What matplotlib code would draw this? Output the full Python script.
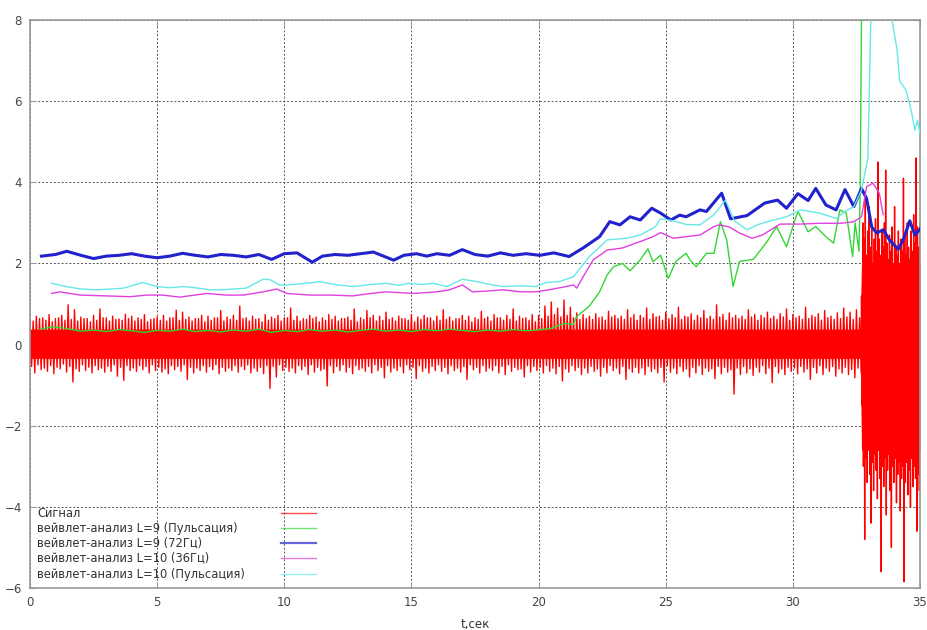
import numpy as np
import matplotlib
matplotlib.use("Agg")
import matplotlib.pyplot as plt

# ---- data ----
# signal (Сигнал): spike peaks of the noisy trace, quiet part, every 0.25 s from 0 to 32.5
sig_hi_a = [0.62, 0.70, 0.66, 0.74, 0.64, 0.72, 0.98, 0.86,
            0.68, 0.64, 0.72, 0.88, 0.66, 0.70, 0.63, 0.75,
            0.70, 0.66, 0.74, 0.62, 0.68, 0.72, 0.66, 0.85,
            0.80, 0.68, 0.64, 0.72, 0.70, 0.66, 0.84, 0.68,
            0.72, 0.95, 0.66, 0.70, 0.64, 0.74, 0.68, 0.72,
            0.66, 0.90, 0.70, 0.64, 0.72, 0.68, 0.66, 0.74,
            0.70, 0.64, 0.68, 0.88, 0.66, 0.84, 0.72, 0.70,
            0.80, 0.66, 0.70, 0.64, 0.74, 0.68, 0.72, 0.66,
            0.70, 0.86, 0.68, 0.64, 0.72, 0.70, 0.66, 0.82,
            0.68, 0.74, 0.66, 0.72, 0.88, 0.70, 0.66, 0.74,
            0.72, 0.95, 1.05, 0.90, 1.10, 0.92, 0.78, 0.74,
            0.70, 0.76, 0.68, 0.82, 0.72, 0.70, 0.86, 0.74,
            0.72, 0.90, 0.76, 0.70, 0.80, 0.74, 0.92, 0.70,
            0.76, 0.72, 0.84, 0.70, 0.98, 0.74, 0.78, 0.72,
            0.70, 0.86, 0.74, 0.72, 0.80, 0.70, 0.76, 0.88,
            0.74, 0.70, 0.92, 0.72, 0.76, 0.84, 0.70, 0.78,
            0.90, 0.80, 0.86]
sig_lo_a = [-0.70, -0.62, -0.66, -0.72, -0.60, -0.68, -0.92, -0.66,
            -0.64, -0.70, -0.62, -0.68, -0.66, -0.78, -0.88, -0.64,
            -0.66, -0.62, -0.70, -0.64, -0.68, -0.72, -0.62, -0.66,
            -0.86, -0.70, -0.64, -0.68, -0.62, -0.72, -0.66, -0.64,
            -0.68, -0.62, -0.70, -0.66, -0.72, -1.08, -0.80, -0.64,
            -0.66, -0.70, -0.62, -0.74, -0.68, -0.64, -1.02, -0.70,
            -0.64, -0.68, -0.72, -0.62, -0.66, -0.70, -0.64, -0.82,
            -0.68, -0.64, -0.70, -0.62, -0.84, -0.66, -0.70, -0.64,
            -0.66, -0.72, -0.64, -0.68, -0.86, -0.62, -0.70, -0.66,
            -0.64, -0.70, -0.74, -0.66, -0.62, -0.80, -0.68, -0.64,
            -0.70, -0.66, -0.72, -0.90, -0.68, -0.64, -0.74, -0.70,
            -0.66, -0.78, -0.70, -0.64, -0.72, -0.86, -0.68, -0.70,
            -0.74, -0.66, -0.70, -0.92, -0.68, -0.72, -0.66, -0.80,
            -0.70, -0.74, -0.66, -0.84, -0.72, -0.68, -1.22, -0.74,
            -0.70, -0.76, -0.68, -0.72, -0.94, -0.70, -0.74, -0.66,
            -0.72, -0.68, -0.86, -0.70, -0.74, -0.66, -0.78, -0.70,
            -0.74, -0.82, -0.70]
# edge of the dense band between the spikes (same 0.25 s steps)
edge_hi_a = [0.58, 0.64, 0.60, 0.56, 0.66, 0.60, 0.62, 0.58,
             0.64, 0.56, 0.60, 0.66, 0.58, 0.62, 0.60, 0.64,
             0.58, 0.62, 0.56, 0.64, 0.60, 0.58, 0.66, 0.60,
             0.62, 0.58, 0.64, 0.56, 0.60, 0.66, 0.58, 0.62,
             0.60, 0.64, 0.58, 0.62, 0.56, 0.60, 0.64, 0.58,
             0.66, 0.60, 0.58, 0.62, 0.64, 0.56, 0.60, 0.62,
             0.58, 0.64, 0.60, 0.56, 0.62, 0.66, 0.58, 0.60,
             0.62, 0.58, 0.64, 0.60, 0.56, 0.62, 0.66, 0.58,
             0.60, 0.62, 0.58, 0.64, 0.60, 0.56, 0.62, 0.64,
             0.58, 0.66, 0.60, 0.62, 0.58, 0.64, 0.60, 0.56,
             0.64, 0.70, 0.74, 0.68, 0.72, 0.66, 0.62, 0.64,
             0.62, 0.66, 0.60, 0.68, 0.64, 0.62, 0.66, 0.60,
             0.66, 0.62, 0.68, 0.60, 0.64, 0.66, 0.62, 0.68,
             0.60, 0.66, 0.64, 0.62, 0.68, 0.60, 0.66, 0.64,
             0.62, 0.68, 0.60, 0.66, 0.64, 0.62, 0.68, 0.60,
             0.66, 0.62, 0.64, 0.68, 0.60, 0.66, 0.62, 0.64,
             0.68, 0.62, 0.66]
edge_lo_a = [-0.54, -0.50, -0.58, -0.52, -0.56, -0.48, -0.54, -0.60,
             -0.50, -0.56, -0.52, -0.58, -0.54, -0.50, -0.56, -0.52,
             -0.58, -0.52, -0.54, -0.50, -0.56, -0.60, -0.52, -0.54,
             -0.50, -0.56, -0.58, -0.52, -0.54, -0.50, -0.56, -0.58,
             -0.52, -0.54, -0.50, -0.58, -0.56, -0.52, -0.54, -0.50,
             -0.56, -0.58, -0.52, -0.54, -0.50, -0.56, -0.60, -0.52,
             -0.54, -0.50, -0.56, -0.52, -0.58, -0.54, -0.50, -0.56,
             -0.52, -0.58, -0.54, -0.50, -0.56, -0.52, -0.58, -0.54,
             -0.50, -0.56, -0.52, -0.58, -0.54, -0.50, -0.56, -0.52,
             -0.58, -0.52, -0.54, -0.50, -0.56, -0.60, -0.52, -0.54,
             -0.56, -0.52, -0.58, -0.54, -0.60, -0.52, -0.56, -0.58,
             -0.54, -0.60, -0.56, -0.52, -0.58, -0.54, -0.60, -0.56,
             -0.58, -0.54, -0.60, -0.56, -0.52, -0.58, -0.54, -0.60,
             -0.56, -0.52, -0.58, -0.60, -0.54, -0.56, -0.62, -0.58,
             -0.54, -0.60, -0.56, -0.52, -0.58, -0.54, -0.60, -0.56,
             -0.58, -0.54, -0.60, -0.56, -0.52, -0.58, -0.54, -0.60,
             -0.56, -0.62, -0.58]
# loud part, every 0.05 s from 32.7 to 35.0
sig_hi_b = [1.2, 3.0, 2.6, 3.6, 2.2, 2.8, 3.4, 2.4, 2.9, 2.0,
            2.6, 3.1, 2.3, 4.5, 2.6, 2.2, 2.8, 2.4, 3.0, 4.3,
            2.5, 2.1, 2.7, 2.3, 2.9, 2.0, 3.4, 2.4, 2.2, 2.8,
            2.0, 2.6, 2.3, 4.1, 2.7, 2.2, 3.0, 2.4, 2.1, 2.8,
            2.3, 3.2, 2.5, 4.6, 2.9, 2.4, 3.0]
sig_lo_b = [-1.5, -3.0, -4.8, -2.8, -3.4, -2.6, -3.2, -4.4, -2.9, -3.6,
            -2.7, -3.1, -3.8, -2.6, -3.3, -5.6, -3.0, -3.5, -2.8, -4.2,
            -3.1, -2.7, -3.6, -5.0, -3.0, -3.4, -2.8, -3.9, -3.2, -2.9,
            -4.1, -3.3, -3.0, -5.85, -3.4, -2.9, -3.7, -3.1, -4.0, -2.8,
            -3.5, -3.0, -3.3, -4.6, -3.2, -3.6, -3.0]
# solid core of the signal band
core_t = [0.0, 32.65, 32.7, 35.0]
core_hi = [0.38, 0.38, 2.0, 2.0]
core_lo = [-0.34, -0.34, -2.6, -2.6]

# вейвлет-анализ L=9 (Пульсация)
green_t = [0.4, 0.9, 1.4, 2.0, 2.5, 3.0, 3.5, 4.0, 4.5, 5.0, 5.5, 6.0, 6.5, 7.0,
           7.5, 8.0, 8.5, 9.0, 9.5, 10.0, 10.5, 11.0, 11.5, 12.0, 12.5, 13.0,
           13.5, 14.0, 14.5, 15.0, 15.5, 16.0, 16.5, 17.0, 17.5, 18.0, 18.5,
           19.0, 19.5, 20.0, 20.5, 21.0, 21.37, 21.5, 22.0, 22.4, 22.7, 22.95,
           23.3, 23.6, 24.0, 24.3, 24.5, 24.8, 25.1, 25.4, 25.8, 25.95, 26.2,
           26.6, 26.9, 27.15, 27.4, 27.65, 27.9, 28.45, 29.0, 29.36, 29.75,
           30.1, 30.2, 30.6, 30.9, 31.3, 31.6, 31.85, 32.1, 32.35, 32.45, 32.6,
           32.65, 32.72, 35.0]
green_v = [0.38, 0.44, 0.40, 0.33, 0.36, 0.32, 0.37, 0.34, 0.30, 0.35, 0.33,
           0.38, 0.32, 0.35, 0.31, 0.36, 0.33, 0.38, 0.30, 0.35, 0.32, 0.37,
           0.33, 0.36, 0.31, 0.35, 0.38, 0.33, 0.36, 0.32, 0.37, 0.34, 0.38,
           0.35, 0.32, 0.36, 0.33, 0.37, 0.34, 0.36, 0.40, 0.52, 0.50, 0.69,
           0.95, 1.30, 1.72, 1.92, 2.00, 1.82, 2.09, 2.36, 2.04, 2.20, 1.63,
           2.05, 2.25, 2.09, 1.92, 2.25, 2.25, 3.03, 2.58, 1.43, 2.05, 2.10,
           2.55, 2.91, 2.41, 3.10, 3.28, 2.78, 2.91, 2.66, 2.50, 3.32, 3.24,
           2.17, 3.00, 2.30, 3.90, 10.0, 10.0]

# вейвлет-анализ L=9 (72Гц)
blue_t = [0.45, 1.0, 1.45, 2.0, 2.5, 3.0, 3.5, 4.0, 4.5, 5.0, 5.5, 6.0, 6.5,
          7.0, 7.5, 8.0, 8.5, 9.0, 9.5, 10.0, 10.5, 11.1, 11.5, 12.0, 12.5,
          13.0, 13.5, 14.3, 14.7, 15.2, 15.6, 16.0, 16.5, 17.0, 17.5, 18.0,
          18.5, 19.0, 19.5, 20.05, 20.6, 21.2, 21.75, 22.4, 22.8, 23.2, 23.6,
          24.0, 24.45, 24.8, 25.2, 25.55, 25.8, 26.35, 26.6, 27.2, 27.55,
          28.2, 28.9, 29.4, 29.75, 30.2, 30.6, 30.9, 31.3, 31.7, 32.05, 32.4,
          32.7, 32.9, 33.1, 33.3, 33.55, 33.8, 34.15, 34.35, 34.6, 34.8, 35.0]
blue_v = [2.18, 2.22, 2.30, 2.20, 2.12, 2.18, 2.20, 2.24, 2.18, 2.14, 2.18,
          2.25, 2.20, 2.16, 2.22, 2.20, 2.16, 2.22, 2.10, 2.24, 2.26, 2.03,
          2.18, 2.22, 2.20, 2.24, 2.28, 2.08, 2.20, 2.24, 2.18, 2.24, 2.20,
          2.34, 2.22, 2.18, 2.26, 2.20, 2.24, 2.20, 2.26, 2.17, 2.38, 2.66,
          3.03, 2.95, 3.15, 3.07, 3.36, 3.24, 3.07, 3.19, 3.15, 3.32, 3.28,
          3.73, 3.10, 3.18, 3.49, 3.56, 3.36, 3.72, 3.55, 3.85, 3.44, 3.32,
          3.82, 3.40, 3.85, 3.60, 2.90, 2.75, 2.83, 2.58, 2.35, 2.60, 3.05,
          2.70, 2.85]

# вейвлет-анализ L=10 (36Гц)
mag_t = [0.85, 1.18, 1.97, 3.0, 3.93, 4.6, 5.2, 5.9, 6.95, 7.7, 8.4, 9.17,
         9.7, 10.1, 11.0, 11.8, 12.7, 13.4, 14.0, 15.07, 16.0, 16.5, 17.0,
         17.4, 18.0, 18.6, 19.3, 19.9, 20.5, 21.0, 21.37, 21.5, 21.75, 22.15,
         22.7, 23.3, 24.0, 24.5, 24.8, 25.3, 25.8, 26.35, 26.9, 27.1, 27.5,
         27.9, 28.4, 28.8, 29.5, 30.3, 31.05, 31.9, 32.4, 32.7, 32.9, 33.15,
         33.4, 33.55]
mag_v = [1.26, 1.30, 1.22, 1.20, 1.18, 1.22, 1.22, 1.17, 1.26, 1.22, 1.22,
         1.30, 1.37, 1.26, 1.22, 1.22, 1.20, 1.26, 1.30, 1.26, 1.30, 1.35,
         1.47, 1.30, 1.32, 1.35, 1.30, 1.30, 1.36, 1.42, 1.47, 1.39, 1.67,
         2.09, 2.33, 2.38, 2.54, 2.66, 2.76, 2.62, 2.66, 2.70, 2.91, 2.95,
         2.90, 2.75, 2.62, 2.70, 2.97, 2.97, 2.99, 2.99, 3.03, 3.15, 3.89,
         3.98, 3.73, 3.20]

# вейвлет-анализ L=10 (Пульсация)
cyan_t = [0.85, 1.5, 2.0, 2.6, 3.2, 3.67, 4.45, 4.98, 5.5, 6.0, 6.5, 7.08,
          7.6, 8.0, 8.5, 9.17, 9.44, 9.8, 10.1, 10.7, 11.4, 12.0, 12.7, 13.4,
          14.0, 14.5, 14.9, 15.4, 15.85, 16.4, 17.0, 17.6, 18.1, 18.6, 19.3,
          19.9, 20.3, 20.8, 21.37, 22.0, 22.7, 23.45, 24.0, 24.6, 24.8, 25.3,
          25.8, 26.35, 26.9, 27.35, 27.7, 28.2, 28.6, 29.0, 29.75, 30.3,
          31.05, 31.7, 32.1, 32.4, 32.7, 32.95, 33.1, 33.85, 33.9, 34.1, 34.2,
          34.45, 34.65, 34.8, 34.9, 35.0]
cyan_v = [1.51, 1.42, 1.37, 1.35, 1.37, 1.39, 1.53, 1.43, 1.40, 1.43, 1.40,
          1.35, 1.35, 1.37, 1.39, 1.61, 1.60, 1.47, 1.47, 1.50, 1.55, 1.48,
          1.43, 1.48, 1.51, 1.46, 1.51, 1.48, 1.51, 1.43, 1.61, 1.55, 1.48,
          1.43, 1.45, 1.43, 1.53, 1.55, 1.67, 2.17, 2.58, 2.62, 2.70, 2.91,
          3.10, 3.05, 2.96, 2.95, 3.20, 3.56, 3.05, 2.83, 2.95, 3.03, 3.15,
          3.32, 3.24, 3.11, 3.30, 3.40, 3.81, 4.60, 9.0, 9.0, 8.0, 7.26,
          6.50, 6.27, 5.78, 5.29, 5.53, 5.20]

labels = ["Сигнал",
          "вейвлет-анализ L=9 (Пульсация)",
          "вейвлет-анализ L=9 (72Гц)",
          "вейвлет-анализ L=10 (36Гц)",
          "вейвлет-анализ L=10 (Пульсация)"]
colors = ["#ff0000", "#33d633", "#2222cc", "#e040e0", "#66e8e8"]
widths = [1.0, 1.0, 2.2, 1.0, 1.0]

# signal as a zig-zag: spike high, edge low, edge high, spike low in every 0.25 s
t_a = np.arange(len(sig_hi_a)) * 0.25
t_b = 32.7 + np.arange(len(sig_hi_b)) * 0.05
quiet_t = np.column_stack([t_a, t_a + 0.0625, t_a + 0.125, t_a + 0.1875]).ravel()
quiet_v = np.column_stack([sig_hi_a, edge_lo_a, edge_hi_a, sig_lo_a]).ravel()
loud_t = np.column_stack([t_b, t_b + 0.025]).ravel()
loud_v = np.column_stack([sig_hi_b, sig_lo_b]).ravel()
sig_t = np.concatenate([quiet_t[quiet_t < 32.7], loud_t])
sig_v = np.concatenate([quiet_v[quiet_t < 32.7], loud_v])
keep = sig_t <= 35.0
sig_t, sig_v = sig_t[keep], sig_v[keep]

fig = plt.figure(figsize=(9.27, 6.30), dpi=100)
ax = fig.add_axes([30 / 927, 1 - 588 / 630, 890 / 927, 568 / 630])

ax.fill_between(core_t, core_lo, core_hi, color=colors[0], lw=0, zorder=2)
ax.plot(sig_t, sig_v, color=colors[0], lw=widths[0], zorder=2)
ax.plot(green_t, green_v, color=colors[1], lw=widths[1], zorder=3)
ax.plot(blue_t, blue_v, color=colors[2], lw=widths[2], zorder=4)
ax.plot(mag_t, mag_v, color=colors[3], lw=widths[3], zorder=5)
ax.plot(cyan_t, cyan_v, color=colors[4], lw=widths[4], zorder=6)

ax.set_xlim(0, 35)
ax.set_ylim(-6, 8)
ax.set_xticks(range(0, 36, 5))
ax.set_yticks(range(-6, 9, 2))
ax.grid(True, color="#555555", linestyle=(0, (2, 2)), linewidth=0.7)
ax.set_axisbelow(True)
for s in ax.spines.values():
    s.set_color("#999999")
    s.set_linewidth(1.2)
ax.tick_params(direction="in", length=4, color="#999999", labelsize=8.5,
               labelcolor="#444444", top=True, right=True, pad=6)
ax.set_xlabel("t,сек", fontsize=8.5, color="#333333", labelpad=6)

# gnuplot-style key: text on the left, sample lines on the right
rows = [0.132, 0.1056, 0.0792, 0.0528, 0.0246]
for lab, col, lw, y in zip(labels, colors, widths, rows):
    ax.text(0.0079, y, lab, transform=ax.transAxes, fontsize=8.3,
            color="#333333", va="center", ha="left", zorder=7)
    ax.plot([0.282, 0.321], [y, y], transform=ax.transAxes, color=col,
            lw=min(lw, 1.6), alpha=0.7, zorder=7)

fig.savefig("out.png", dpi=100)
